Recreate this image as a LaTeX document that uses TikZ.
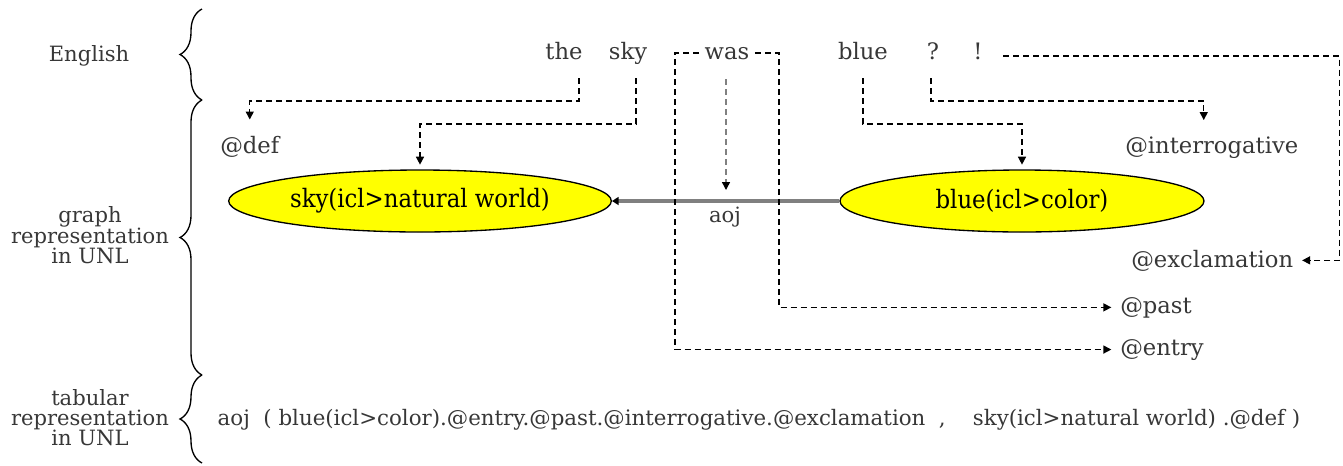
\documentclass[tikz,border=0pt]{standalone}
\usepackage{fontspec}
\setmainfont{DejaVu Serif}
\newfontfamily\condSerif[FakeStretch=0.9]{DejaVu Serif}
\usetikzlibrary{positioning,shapes.geometric,arrows.meta,decorations.pathreplacing,calc}
\definecolor{textGray}{RGB}{55,55,55}
\definecolor{relGray}{RGB}{128,128,128}
\definecolor{conceptYellow}{RGB}{255,255,0}
\tikzstyle{unlPic} = [x = .75pt, y = -.75pt]
\tikzstyle{wordStyle} = [text=textGray, font=\fontsize{17}{20}\selectfont, anchor=base, inner sep=4pt]
\tikzstyle{tagStyle} = [text=textGray, font=\fontsize{17}{20}\selectfont, anchor=base west, inner sep=3pt]
\tikzstyle{sideLabel} = [text=textGray, font=\fontsize{15.8}{15}\selectfont, align=center]
\tikzstyle{conceptStyle} = [ellipse, draw=black, fill=conceptYellow, line width=1pt, inner sep=0pt, minimum height=46.5pt, font=\condSerif\fontsize{19}{22}\selectfont]
\tikzstyle{linkLine} = [color=black, line width=1.1pt, dash pattern=on 4.5pt off 3pt, shorten >=3.5pt, -{Triangle[length=6pt,width=6pt]}]
\tikzstyle{dropLine} = [linkLine, shorten >=9pt]
\tikzstyle{wasLine} = [color=relGray, line width=1.1pt, dash pattern=on 4.5pt off 3pt, -{Triangle[length=6pt,width=6pt,color=black]}]
\tikzstyle{relationLine} = [color=relGray, line width=2.6pt, -{Triangle[length=5pt,width=6pt,color=black]}]
\tikzstyle{braceLine} = [decorate, decoration={brace, amplitude=16.5pt}, line width=1pt, color=black]
\tikzstyle{tableText} = [text=textGray, font=\fontsize{16}{18}\selectfont, anchor=base west]

\begin{document}
\begin{tikzpicture}[unlPic]
  \useasboundingbox (0,0) rectangle (1343,465);
  % left side
  \node [sideLabel] (english) at (89,56) {English};
  \node [sideLabel] (graphLabel) at (90,235) {graph\\representation\\in UNL};
  \node [sideLabel] (tableLabel) at (90,418) {tabular\\representation\\in UNL};
  \draw [braceLine] (202,100) -- (202,9);
  \draw [braceLine] (202,375) -- (202,100);
  \draw [braceLine] (202,463) -- (202,375);
  % sentence
  \node [wordStyle] (the) at (564,59) {the};
  \node [wordStyle] (sky) at (628,59) {sky};
  \node [wordStyle] (was) at (727,59) {was};
  \node [wordStyle] (blue) at (863,59) {blue};
  \node [wordStyle] (qmark) at (933,59) {?};
  \node [wordStyle] (bang) at (978,59) {!};
  % graph
  \node [conceptStyle, minimum width=287pt] (skyConcept) at (420,201) {sky(icl>natural world)};
  \node [conceptStyle, minimum width=273pt] (blueConcept) at (1022,201) {blue(icl>color)};
  \node [tagStyle] (def) at (216,153) {@def};
  \node [tagStyle] (interr) at (1121,153) {@interrogative};
  \node [tagStyle] (exclam) at (1127,267) {@exclamation};
  \node [tagStyle] (past) at (1116,313) {@past};
  \node [tagStyle] (entry) at (1116,355) {@entry};
  \draw [relationLine] (blueConcept.west) -- (skyConcept.east);
  \node [text=textGray, font=\fontsize{15.8}{18}\selectfont, anchor=base] (aoj) at (725,222) {aoj};
  \draw [wasLine] ($(was.base)+(-1,20)$) -- ++(0,111);
  \draw [dropLine] ($(the.base)+(15,19)$) -- ++(0,23) -| (def.north);
  \draw [linkLine] ($(sky.base)+(8,19)$) -- ++(0,46) -| (skyConcept.north);
  \draw [linkLine] ($(blue.base)+(0,19)$) -- ++(0,46) -| (blueConcept.north);
  \draw [dropLine] ($(qmark.base)+(-2,19)$) -- ++(0,23) -| ($(interr.north)+(-8,0)$);
  \draw [linkLine] ($(bang.base)+(25,-3)$) -| ($(exclam.east)+(42,0)$) -- (exclam.east);
  \draw [linkLine] (was.west) -- ++(-24,0) |- (entry.west);
  \draw [linkLine] (was.east) -- ++(24,0) |- (past.west);
  % table
  \node [tableText] (table) at (213,425) {aoj\ \ ( blue(icl>color).@entry.@past.@interrogative.@exclamation\ \ ,\ \ \ \ sky(icl>natural world) .@def )};
\end{tikzpicture}
\end{document}
